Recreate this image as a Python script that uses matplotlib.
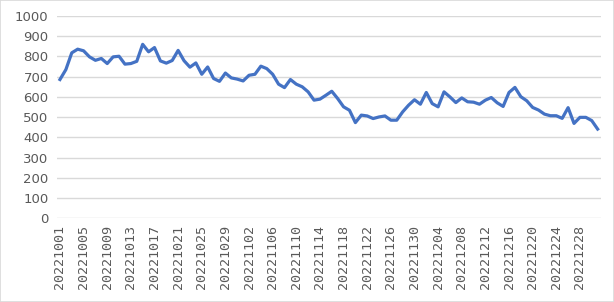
import datetime as dt
import matplotlib
matplotlib.use("Agg")
import matplotlib.pyplot as plt
from matplotlib.patches import Rectangle

start = dt.date(2022, 10, 1)
values = [686, 735, 818, 836, 828, 798, 781, 790, 765, 798,
          801, 762, 765, 776, 860, 823, 844, 778, 767, 780,
          830, 779, 747, 768, 712, 748, 691, 677, 718, 694,
          688, 679, 707, 712, 752, 740, 712, 663, 646, 686,
          663, 650, 625, 584, 589, 608, 628, 592, 551, 534,
          473, 510, 506, 493, 501, 506, 485, 485, 526, 559,
          586, 564, 622, 567, 551, 625, 600, 572, 595, 576,
          574, 564, 584, 597, 571, 553, 622, 647, 601, 581,
          548, 535, 515, 507, 507, 494, 547, 469, 499, 499,
          483, 441]
dates = [(start + dt.timedelta(days=i)).strftime("%Y%m%d") for i in range(len(values))]
yticks = list(range(0, 1001, 100))

fig = plt.figure(figsize=(6.14, 3.02), dpi=100)
fig.patches.append(Rectangle((0, 0), 1, 1, transform=fig.transFigure,
                             fill=False, edgecolor="#D9D9D9", linewidth=1.2))
ax = fig.add_axes([57 / 614, 1 - 218.3 / 302, (600.6 - 57) / 614, (218.3 - 16) / 302])

x = list(range(len(values)))
ax.plot(x, values, color="#4472C4", linewidth=2.3, solid_joinstyle="round")

ax.set_xlim(-0.5, len(values) - 0.5)
ax.set_ylim(0, 1000)
ax.set_yticks(yticks)
ax.set_yticklabels([str(t) for t in yticks], fontsize=9.5, color="#595959",
                   family="DejaVu Sans")
ax.set_xticks(x[::4])
ax.set_xticklabels(dates[::4], rotation=90, fontsize=9.6, color="#595959",
                   family="DejaVu Sans Mono")
ax.tick_params(axis="both", length=0)
ax.tick_params(axis="y", pad=6)
ax.tick_params(axis="x", pad=5)
ax.grid(axis="y", color="#D9D9D9", linewidth=1)
ax.set_axisbelow(True)
for s in ax.spines.values():
    s.set_visible(False)

fig.savefig("out.png", dpi=100)
